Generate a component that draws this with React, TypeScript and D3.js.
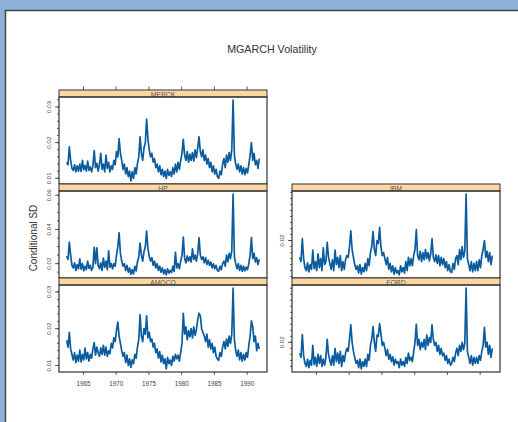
import React from 'react';
import * as d3 from 'd3';

// MGARCH conditional SD, values in units of 1e-4, one value every 0.2 years
const START_YEAR = 1962.45;
const STEP = 0.2;

const merck = [
  145, 138, 188, 150, 128, 122, 138, 118, 135, 120, 140, 119, 150, 124, 136,
  120, 148, 122, 132, 118, 135, 178, 130, 142, 120, 138, 170, 125, 140, 118,
  165, 128, 145, 118, 135, 125, 150, 138, 175, 160, 211, 170, 150, 125, 140,
  112, 130, 105, 120, 93, 118, 100, 130, 112, 142, 160, 216, 170, 150, 185,
  200, 266, 210, 180, 160, 170, 145, 155, 130, 140, 118, 135, 110, 125, 105,
  120, 100, 125, 108, 118, 105, 130, 112, 140, 118, 145, 125, 150, 170, 209,
  165, 150, 175, 145, 168, 150, 172, 148, 180, 158, 185, 216, 175, 160, 180,
  150, 165, 140, 155, 130, 145, 118, 135, 112, 125, 105, 100, 120, 110, 140,
  155, 130, 165, 145, 172, 150, 180, 319, 165, 140, 125, 140, 118, 135, 112,
  130, 110, 128, 115, 138, 165, 200, 150, 170, 138, 150, 128, 155,
];

const hp = [
  245, 225, 326, 250, 190, 175, 205, 160, 195, 170, 228, 168, 200, 158, 185,
  165, 215, 172, 190, 160, 180, 296, 200, 292, 190, 170, 205, 160, 232, 178,
  215, 165, 275, 180, 200, 170, 200, 185, 250, 300, 380, 260, 215, 185, 200,
  160, 190, 150, 175, 138, 165, 140, 185, 158, 210, 240, 320, 250, 215, 270,
  300, 390, 290, 240, 215, 235, 190, 215, 175, 200, 160, 185, 150, 175, 140,
  165, 135, 170, 145, 160, 148, 185, 155, 266, 175, 200, 170, 215, 250, 356,
  230, 205, 245, 215, 240, 210, 286, 225, 250, 215, 260, 352, 250, 225, 240,
  205, 235, 195, 220, 190, 210, 175, 200, 170, 190, 160, 156, 185, 165, 200,
  215, 185, 250, 210, 260, 230, 275, 606, 240, 200, 170, 200, 160, 190, 155,
  185, 158, 180, 165, 200, 250, 352, 230, 260, 210, 235, 195, 225,
];

const amoco = [
  168, 150, 190, 145, 130, 115, 135, 108, 128, 112, 142, 110, 130, 115, 147,
  118, 135, 112, 130, 120, 145, 162, 128, 150, 135, 125, 148, 130, 155, 128,
  150, 125, 140, 132, 160, 148, 175, 165, 195, 218, 180, 160, 140, 125, 135,
  108, 128, 100, 118, 95, 115, 105, 130, 120, 150, 170, 238, 180, 165, 200,
  185, 235, 175, 190, 165, 172, 150, 160, 135, 145, 120, 138, 110, 128, 105,
  118, 91, 122, 105, 115, 100, 125, 112, 130, 118, 128, 112, 135, 160, 242,
  185, 205, 170, 195, 178, 200, 175, 205, 182, 198, 225, 242, 235, 200, 190,
  180, 165, 185, 150, 170, 145, 160, 135, 150, 125, 118, 114, 135, 125, 150,
  165, 145, 172, 152, 180, 160, 185, 310, 170, 140, 125, 142, 115, 135, 112,
  130, 115, 135, 122, 155, 180, 221, 205, 165, 180, 140, 160, 145,
];

const ibm = [
  172, 165, 203, 170, 155, 150, 163, 148, 160, 152, 184, 153, 165, 150, 178,
  155, 170, 150, 188, 160, 165, 197, 172, 162, 152, 168, 150, 184, 160, 172,
  155, 175, 150, 165, 152, 168, 175, 172, 190, 216, 185, 172, 160, 152, 158,
  146, 160, 144, 155, 148, 162, 150, 170, 158, 180, 190, 215, 185, 175, 200,
  195, 222, 190, 175, 180, 170, 160, 172, 152, 162, 148, 158, 144, 155, 146,
  150, 143, 158, 148, 155, 146, 165, 150, 172, 158, 170, 158, 175, 185, 218,
  175, 168, 182, 165, 180, 168, 185, 170, 180, 166, 178, 203, 172, 165, 176,
  162, 175, 158, 172, 160, 170, 155, 165, 150, 160, 148, 147, 162, 152, 170,
  175, 160, 185, 168, 190, 172, 182, 277, 170, 160, 150, 165, 148, 162, 150,
  165, 150, 168, 155, 175, 185, 200, 172, 182, 165, 180, 160, 175,
];

const ford = [
  182, 175, 213, 178, 165, 160, 172, 158, 170, 162, 195, 163, 175, 160, 180,
  165, 178, 160, 172, 162, 175, 205, 180, 170, 162, 178, 162, 190, 168, 182,
  165, 185, 160, 178, 168, 182, 190, 185, 205, 229, 200, 185, 175, 165, 170,
  158, 172, 156, 168, 160, 172, 160, 180, 170, 195, 205, 226, 200, 185, 212,
  210, 231, 215, 195, 200, 190, 178, 188, 172, 180, 168, 176, 162, 172, 165,
  168, 158, 172, 162, 168, 160, 175, 165, 182, 170, 175, 168, 185, 200, 230,
  195, 205, 188, 200, 192, 205, 188, 212, 195, 208, 200, 229, 205, 195, 200,
  185, 195, 180, 190, 178, 182, 170, 178, 165, 172, 162, 165, 175, 168, 182,
  190, 178, 195, 185, 200, 188, 198, 290, 185, 175, 165, 178, 162, 175, 165,
  175, 165, 178, 170, 185, 195, 225, 192, 200, 180, 195, 175, 190,
];

const yearTicks = [1965, 1970, 1975, 1980, 1985, 1990];

const panels = [
  { name: 'MERCK', values: merck, col: 0, row: 0, major: [0.01, 0.02, 0.03], minor: 0.002 },
  { name: 'HP', values: hp, col: 0, row: 1, major: [0.02, 0.04, 0.06], minor: 0.005 },
  { name: 'IBM', values: ibm, col: 1, row: 1, major: [0.02], minor: 0.001 },
  { name: 'AMOCO', values: amoco, col: 0, row: 2, major: [0.01, 0.02, 0.03], minor: 0.002 },
  { name: 'FORD', values: ford, col: 1, row: 2, major: [0.02], minor: 0.001 },
];

const W = 518;
const H = 422;
const colX = [59, 292];
const panelW = 208;
const top0 = 90;
const rowH = 94;
const stripH = 7;
const LINE = '#0b5c9e';
const FRAME = '#333';
const TXT = '#444';

const pad = (lo: number, hi: number) => {
  const d = (hi - lo) * 0.04;
  return [lo - d, hi + d];
};

function Panel({ p }: { p: (typeof panels)[number] }) {
  const x0 = colX[p.col];
  const sTop = top0 + p.row * rowH;
  const pTop = sTop + stripH;
  const pBot = sTop + rowH;
  const years = p.values.map((_, i) => START_YEAR + i * STEP);
  const sd = p.values.map((v) => v / 10000);

  const x = d3.scaleLinear().domain(pad(d3.min(years)!, d3.max(years)!)).range([x0, x0 + panelW]);
  const y = d3.scaleLinear().domain(pad(d3.min(sd)!, d3.max(sd)!)).range([pBot, pTop]);

  const line = d3
    .line<number>()
    .x((_, i) => x(years[i]))
    .y((d) => y(d));

  const [lo, hi] = y.domain();
  const minorTicks = d3.range(Math.ceil(lo / p.minor), Math.floor(hi / p.minor) + 1).map((k) => k * p.minor);

  const isBottom = p.row === 2;
  const isTop = p.row === 0;

  return (
    <g>
      {/* strip */}
      <rect x={x0} y={sTop} width={panelW} height={stripH} fill="#fdd6a2" stroke={FRAME} strokeWidth={1} />
      <svg x={x0} y={sTop} width={panelW} height={stripH} overflow="hidden">
        <text x={panelW / 2} y={stripH - 0.2} textAnchor="middle" fontSize={6.8} fill="#555">
          {p.name}
        </text>
      </svg>

      <path d={line(sd) || ''} fill="none" stroke={LINE} strokeWidth={1.7} strokeLinejoin="round" />
      <rect x={x0} y={pTop} width={panelW} height={pBot - pTop} fill="none" stroke={FRAME} strokeWidth={1.2} />

      {/* y ticks */}
      {minorTicks.map((t, i) => (
        <line key={'m' + i} x1={x0} x2={x0 - 2} y1={y(t)} y2={y(t)} stroke={FRAME} strokeWidth={0.8} />
      ))}
      {p.major.map((t) => (
        <g key={t}>
          <line x1={x0} x2={x0 - 4} y1={y(t)} y2={y(t)} stroke={FRAME} strokeWidth={0.8} />
          <text
            transform={`translate(${x0 - 8.5},${y(t)}) rotate(-90)`}
            textAnchor="middle"
            fontSize={6.2}
            fill={TXT}
          >
            {d3.format('.2f')(t)}
          </text>
        </g>
      ))}

      {/* x ticks */}
      {isTop &&
        yearTicks.map((t) => (
          <line key={t} x1={x(t)} x2={x(t)} y1={sTop} y2={sTop - 3.5} stroke={FRAME} strokeWidth={0.8} />
        ))}
      {isBottom &&
        yearTicks.map((t) => (
          <g key={t}>
            <line x1={x(t)} x2={x(t)} y1={pBot} y2={pBot + 3} stroke={FRAME} strokeWidth={0.8} />
            {p.col === 0 && (
              <text x={x(t)} y={pBot + 14} textAnchor="middle" fontSize={6.3} fill={TXT}>
                {t}
              </text>
            )}
          </g>
        ))}
    </g>
  );
}

export default function App() {
  return (
    <svg
      width={W}
      height={H}
      style={{ position: 'absolute', left: 0, top: 0 }}
      fontFamily="'Liberation Sans', Arial, sans-serif"
    >
      <rect width={W} height={H} fill="#8fb0d8" />
      <rect x={5.5} y={10.5} width={W} height={H} fill="#fff" stroke="#444" strokeWidth={1.5} />
      <text x={272} y={53} textAnchor="middle" fontSize={10.7} fill="#333">
        MGARCH Volatility
      </text>
      <text transform="translate(37,238) rotate(-90)" textAnchor="middle" fontSize={10} fill="#333">
        Conditional SD
      </text>
      {panels.map((p) => (
        <Panel key={p.name} p={p} />
      ))}
    </svg>
  );
}
